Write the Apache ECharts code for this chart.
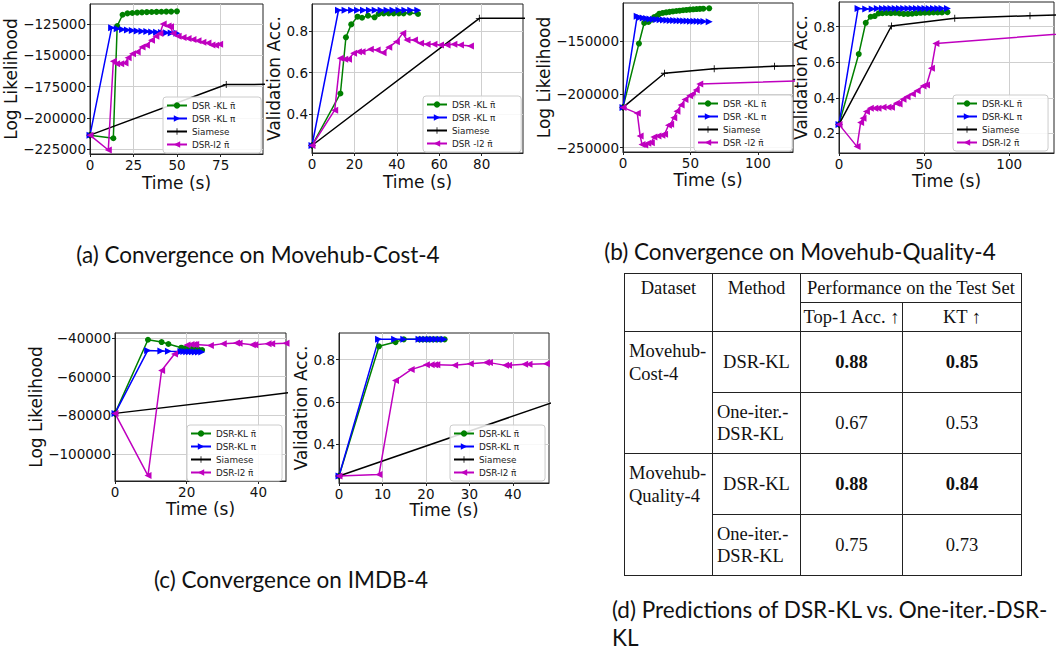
<!DOCTYPE html>
<html><head><meta charset="utf-8">
<script src="https://cdn.jsdelivr.net/npm/echarts@6/dist/echarts.min.js"></script>
<style>
html,body{margin:0;padding:0;background:#fff;width:1062px;height:652px;overflow:hidden}
#chart{position:absolute;left:0;top:0;width:1062px;height:652px}
.cap{position:absolute;font-family:Lato,'Open Sans',sans-serif;font-size:22.5px;color:#111;white-space:nowrap;line-height:28px}
table.t{position:absolute;left:624px;top:273px;border-collapse:collapse;font-family:'Liberation Serif','DejaVu Serif',serif;font-size:18.5px;color:#111;table-layout:fixed}
table.t td{border:1.2px solid #222;padding:0;text-align:center;vertical-align:middle;line-height:22px;box-sizing:border-box}
</style></head><body>
<div id="chart"></div>
<div class="cap" style="left:58px;top:241px;width:400px;text-align:center">(a) Convergence on Movehub-Cost-4</div>
<div class="cap" style="left:600px;top:238px;width:400px;text-align:center">(b) Convergence on Movehub-Quality-4</div>
<div class="cap" style="left:91px;top:566px;width:400px;text-align:center">(c) Convergence on IMDB-4</div>
<div class="cap" style="left:612px;top:596px;width:440px;text-align:left">(d) Predictions of DSR-KL vs. One-iter.-DSR-<br>KL</div>
<table class="t" id="tbl"></table>
<script>
// ---------- data ----------
const legA_L = ['DSR -KL \u03C0\u0304','DSR -KL \u03C0','Siamese','DSR-l2 \u03C0\u0304'];
const legA_R = ['DSR -KL \u03C0\u0304','DSR -KL \u03C0','Siamese','DSR -l2 \u03C0\u0304'];
const legB_L = ['DSR -KL \u03C0\u0304','DSR -KL \u03C0','Siamese','DSR -l2 \u03C0\u0304'];
const legB_R = ['DSR-KL \u03C0\u0304','DSR-KL \u03C0','Siamese','DSR-l2 \u03C0\u0304'];
const legC = ['DSR-KL \u03C0\u0304','DSR-KL \u03C0','Siamese','DSR-l2 \u03C0\u0304'];

const aL_xTicks = [0,25,50,75];
const aL_yTicks = [-225000,-200000,-175000,-150000,-125000];
const aR_xTicks = [0,20,40,60,80];
const aR_yTicks = [0.4,0.6,0.8];
const bL_xTicks = [0,50,100];
const bL_yTicks = [-250000,-200000,-150000];
const bR_xTicks = [0,50,100];
const bR_yTicks = [0.2,0.4,0.6,0.8];
const cL_xTicks = [0,20,40];
const cL_yTicks = [-100000,-80000,-60000,-40000];
const cR_xTicks = [0,10,20,30,40];
const cR_yTicks = [0.4,0.6,0.8];

const aL_green = [[0,-213900],[13.4,-216400],[15.6,-126600],[18.7,-117500],[21.5,-116400],[24.3,-116100],[27.1,-115800],[29.8,-115600],[32.6,-115400],[35.4,-115300],[38.2,-115200],[41,-115100],[43.8,-115000],[46.6,-115000],[49.9,-114800]];
const aL_blue = [[0,-213900],[12.4,-128000],[15.6,-128800],[18.7,-129300],[21.5,-129800],[24.3,-130200],[27.1,-130500],[29.8,-130800],[32.6,-131000],[35.4,-131300],[38.2,-131500],[41,-131700],[43.8,-131900],[46.6,-132100],[49.9,-132300]];
const aL_siam = [[0,-213900],[78.2,-173400],[130,-173000]];
const aL_l2 = [[0,-213900],[10.5,-225800],[13.4,-154800],[15.3,-156700],[17.6,-156700],[20.1,-156200],[21.9,-151900],[24.4,-148700],[27.1,-147300],[29.9,-143300],[32.4,-141900],[35.3,-137900],[37.8,-134700],[40.1,-132500],[42,-125000],[44.8,-126600],[46.2,-127200],[47.7,-132500],[50.6,-134700],[53.4,-135800],[56.3,-136600],[59.1,-137400],[62,-138400],[64.8,-139500],[67.7,-140100],[70,-141700],[72.1,-141900],[74.4,-141100]];

const aR_green = [[0,0.25],[13.4,0.5],[16,0.77],[18.5,0.832],[21.5,0.869],[23.6,0.864],[26.4,0.874],[29.5,0.866],[31.4,0.882],[33.8,0.885],[36.2,0.885],[38.5,0.885],[40.9,0.885],[43.2,0.885],[46.1,0.888],[50,0.882]];
const aR_blue = [[0,0.25],[12.5,0.9],[15.6,0.9],[18.7,0.9],[21.5,0.9],[24.3,0.9],[27.1,0.9],[29.8,0.9],[32.6,0.9],[35.4,0.9],[38.2,0.9],[41,0.9],[43.8,0.9],[46.6,0.9],[49.9,0.9]];
const aR_siam = [[0,0.25],[78.9,0.861],[130,0.861]];
const aR_l2 = [[0,0.25],[10.7,0.42],[13.35,0.669],[15.4,0.664],[17.2,0.664],[19.6,0.693],[21.9,0.7],[23.6,0.7],[27.5,0.712],[30.7,0.709],[33.5,0.696],[36.2,0.722],[39.8,0.749],[42.8,0.789],[44.8,0.757],[48.3,0.757],[51.2,0.741],[54.3,0.736],[57.5,0.736],[60.6,0.733],[63.7,0.733],[66.9,0.736],[70,0.733],[74.7,0.728]];

const bL_green = [[0,-212300],[11.8,-152500],[15.7,-133200],[18.9,-132200],[21.5,-130000],[23.1,-127600],[25.5,-126200],[27,-124500],[29.5,-123800],[32,-123300],[34.5,-122800],[37,-122400],[39.5,-122000],[42,-121700],[44.5,-121300],[47,-121000],[49.5,-120700],[52,-120400],[54.5,-120200],[57,-120000],[59.5,-119800],[63.9,-119500]];
const bL_blue = [[0,-212300],[10.5,-126800],[12.5,-128000],[15,-128600],[17.5,-129000],[20,-129400],[22.5,-129700],[25,-130000],[27.5,-130200],[30,-130400],[32.5,-130600],[35,-130800],[37.5,-131000],[40,-131100],[42.5,-131200],[45,-131300],[47.5,-131400],[50,-131500],[52.5,-131600],[55,-131700],[57.5,-131800],[60,-131900],[63.9,-132000]];
const bL_siam = [[0,-212300],[30.7,-180300],[67.6,-176200],[112.3,-173700],[150,-172800]];
const bL_l2 = [[0,-212300],[10.6,-217900],[12.7,-239000],[14.1,-247000],[16.1,-247500],[18.4,-246000],[21,-245500],[22.9,-240000],[25.9,-239000],[28.8,-238500],[30.8,-237500],[33.7,-229000],[35.3,-228000],[37.6,-222000],[40,-216000],[43.1,-210000],[45.9,-205000],[49.4,-201500],[51.4,-200000],[54.3,-196000],[56.9,-190500],[150,-186500]];

const bR_green = [[0,0.25],[11.6,0.646],[15.7,0.822],[18.6,0.856],[21,0.86],[23.3,0.875],[25.5,0.876],[28,0.877],[30.5,0.876],[33,0.878],[35.5,0.875],[38,0.872],[40.5,0.872],[43,0.873],[45.5,0.876],[48,0.878],[50.5,0.879],[53,0.879],[55.5,0.88],[58,0.88],[60.5,0.88],[63.7,0.882]];
const bR_blue = [[0,0.25],[11.2,0.902],[15.7,0.9],[19.5,0.9],[22.5,0.902],[25.5,0.902],[28,0.902],[30.5,0.902],[33,0.902],[35.5,0.902],[38,0.902],[40.5,0.902],[43,0.902],[45.5,0.902],[48,0.902],[50.5,0.902],[53,0.902],[55.5,0.902],[58,0.902],[60.5,0.902],[63.7,0.902]];
const bR_siam = [[0,0.25],[30.8,0.804],[68,0.847],[112.2,0.862],[150,0.873]];
const bR_l2 = [[0,0.25],[10.6,0.125],[12.7,0.26],[14.1,0.285],[16.1,0.322],[18.4,0.341],[21,0.341],[22.9,0.341],[25.9,0.346],[28.8,0.346],[30.8,0.346],[33.7,0.369],[35.3,0.365],[37.6,0.391],[40,0.406],[43.1,0.421],[45.9,0.44],[49.4,0.466],[51.4,0.472],[54.3,0.566],[56.9,0.706],[150,0.774]];

const cL_green = [[0,-79000],[9.2,-40900],[13,-42100],[14.9,-43100],[18.5,-45000],[19.3,-45500],[20.1,-45300],[20.8,-45800],[21.6,-45600],[22.4,-45900],[23.3,-46000],[24.3,-46200]];
const cL_blue = [[0,-79000],[9.1,-46500],[12.8,-46700],[14.9,-46900],[18.4,-47000],[19.2,-47000],[20,-47100],[20.8,-47100],[21.6,-47100],[22.4,-47200],[23.3,-47200],[24.2,-47200]];
const cL_siam = [[0,-79000],[100,-57000]];
const cL_l2 = [[0,-79000],[9.2,-111200],[13,-56800],[16.6,-48300],[20.1,-43600],[21.2,-43300],[22,-43300],[22.5,-43300],[26.6,-43900],[30.2,-42900],[33.9,-42600],[34.6,-42700],[38.3,-43500],[39,-43500],[42.7,-42900],[43.7,-42900],[47.7,-42700]];

const cR_green = [[0,0.25],[9.2,0.863],[13,0.883],[14.9,0.896],[18.5,0.896],[19.3,0.896],[20.1,0.896],[20.8,0.896],[21.6,0.896],[22.4,0.896],[23.3,0.896],[24.3,0.896]];
const cR_blue = [[0,0.25],[9.1,0.896],[12.8,0.896],[14.9,0.896],[18.4,0.896],[19.2,0.896],[20,0.896],[20.8,0.896],[21.6,0.896],[22.4,0.896],[23.3,0.896],[24.2,0.896]];
const cR_siam = [[0,0.25],[100,0.958]];
const cR_l2 = [[0,0.25],[9.2,0.257],[13,0.702],[16.6,0.753],[20.1,0.776],[21.2,0.776],[22,0.776],[22.5,0.776],[26.6,0.773],[30.2,0.781],[33.9,0.786],[34.6,0.786],[38.3,0.773],[39,0.773],[42.7,0.778],[43.7,0.778],[47.7,0.781]];

// table
const tblHeader = ['Dataset','Method','Performance on the Test Set'];
const tblSubHeader = ['Top-1 Acc. \u2191','KT \u2191'];
const tblDatasets = [['Movehub-','Cost-4'],['Movehub-','Quality-4']];
const tblMethods = [['DSR-KL'],['One-iter.-','DSR-KL'],['DSR-KL'],['One-iter.-','DSR-KL']];
const tblAcc = ['0.88','0.67','0.88','0.75'];
const tblKT = ['0.85','0.53','0.84','0.73'];
const tblBold = [true,false,true,false];

// ---------- build table ----------
(function(){
  const t = document.getElementById('tbl');
  let h = '<colgroup><col style="width:88px"><col style="width:88px"><col style="width:102px"><col style="width:119px"></colgroup>';
  h += '<tr style="height:29px"><td rowspan="2" style="vertical-align:top;padding-top:3px">'+tblHeader[0]+'</td><td rowspan="2" style="vertical-align:top;padding-top:3px">'+tblHeader[1]+'</td><td colspan="2">'+tblHeader[2]+'</td></tr>';
  h += '<tr style="height:29px"><td>'+tblSubHeader[0]+'</td><td>'+tblSubHeader[1]+'</td></tr>';
  for (let i=0;i<4;i++){
    h += '<tr style="height:61px">';
    if (i%2===0) h += '<td rowspan="2" style="vertical-align:top;text-align:left;padding:8px 0 0 4px;line-height:23px">'+tblDatasets[i/2].join('<br>')+'</td>';
    const m = tblMethods[i];
    h += '<td style="'+(m.length>1?'text-align:left;padding-left:4px;':'')+'">'+m.join('<br>')+'</td>';
    const b = tblBold[i];
    h += '<td>'+(b?'<b>':'')+tblAcc[i]+(b?'</b>':'')+'</td><td>'+(b?'<b>':'')+tblKT[i]+(b?'</b>':'')+'</td></tr>';
  }
  t.innerHTML = h;
})();

// ---------- chart ----------
const FONT = 'DejaVu Sans';
const TICK = 13.5;
const plusPath = 'path://M0,4.4H10V5.6H0Z M4.4,0H5.6V10H4.4Z';
const seriesStyle = [
  {color:'#008000', symbol:'circle', size:6, rot:0},
  {color:'#0000ff', symbol:'triangle', size:7, rot:-90},
  {color:'#000000', symbol:plusPath, size:7, rot:0},
  {color:'#bf00bf', symbol:'triangle', size:7, rot:90}
];
const panels = [
  {grid:{left:90,top:4,width:173,height:150}, x:[0,99.3], xt:aL_xTicks, y:[-229000,-108900], yt:aL_yTicks, yname:'Log Likelihood', ygap:64, xgap:20, names:legA_L, data:[aL_green,aL_blue,aL_siam,aL_l2], leg:[163,97]},
  {grid:{left:312,top:4,width:211,height:149}, x:[0,99.5], xt:aR_xTicks, y:[0.214,0.93], yt:aR_yTicks, yname:'Validation Acc.', ygap:28, xgap:20, names:legA_R, data:[aR_green,aR_blue,aR_siam,aR_l2], leg:[423,96]},
  {grid:{left:623,top:3,width:170,height:149}, x:[0,126], xt:bL_xTicks, y:[-254100,-114500], yt:bL_yTicks, yname:'Log Likelihood', ygap:66, xgap:19, names:legB_L, data:[bL_green,bL_blue,bL_siam,bL_l2], leg:[694,95]},
  {grid:{left:839,top:2,width:215,height:151}, x:[0,126.3], xt:bR_xTicks, y:[0.089,0.939], yt:bR_yTicks, yname:'Validation Acc.', ygap:27, xgap:19, names:legB_R, data:[bR_green,bR_blue,bR_siam,bR_l2], leg:[953,95]},
  {grid:{left:115,top:333,width:171,height:148}, x:[0,47.7], xt:cL_xTicks, y:[-114000,-37400], yt:cL_yTicks, yname:'Log Likelihood', ygap:67, xgap:19, names:legC, data:[cL_green,cL_blue,cL_siam,cL_l2], leg:[187,425]},
  {grid:{left:339,top:333,width:210,height:150}, x:[0,48.3], xt:cR_xTicks, y:[0.217,0.926], yt:cR_yTicks, yname:'Validation Acc.', ygap:27, xgap:18, names:legC, data:[cR_green,cR_blue,cR_siam,cR_l2], leg:[450,425]}
];
const fmt = v => v < 0 ? '\u2212' + Math.abs(v) : String(v);
const grids=[], xAxes=[], yAxes=[], series=[], legends=[];
panels.forEach((p,i)=>{
  grids.push(Object.assign({show:true, borderColor:'#222', borderWidth:1, backgroundColor:'transparent', containLabel:false}, p.grid));
  const common = {
    gridIndex:i, type:'value',
    axisLine:{show:true, onZero:false, lineStyle:{color:'#222', width:1}},
    splitLine:{show:true, lineStyle:{color:'#cfcfcf', width:1}},
    nameLocation:'middle',
    nameTextStyle:{fontFamily:FONT, fontSize:17, color:'#111'}
  };
  xAxes.push(Object.assign({}, common, {
    min:p.x[0], max:p.x[1], name:'Time (s)', nameGap:p.xgap,
    axisTick:{show:true, inside:false, length:3, customValues:p.xt, lineStyle:{color:'#222'}},
    axisLabel:{customValues:p.xt, fontFamily:FONT, fontSize:TICK, color:'#111', margin:4, formatter:fmt}
  }));
  yAxes.push(Object.assign({}, common, {
    min:p.y[0], max:p.y[1], name:p.yname, nameGap:p.ygap,
    axisTick:{show:true, inside:false, length:3, customValues:p.yt, lineStyle:{color:'#222'}},
    axisLabel:{customValues:p.yt, fontFamily:FONT, fontSize:TICK, color:'#111', margin:4, formatter:fmt}
  }));
  p.data.forEach((d,k)=>{
    const s = seriesStyle[k];
    series.push({
      type:'line', name:p.names[k], xAxisIndex:i, yAxisIndex:i, data:d,
      symbol:s.symbol, symbolSize:s.size, symbolRotate:s.rot, showSymbol:true,
      clip:true, silent:true, animation:false,
      lineStyle:{color:s.color, width:1.5}, itemStyle:{color:s.color}
    });
  });
  legends.push({
    show:true, orient:'vertical', left:p.leg[0], top:p.leg[1], data:p.names, selectedMode:false,
    backgroundColor:'rgba(255,255,255,0.85)', borderColor:'#cccccc', borderWidth:1, borderRadius:3,
    padding:[4,26,4,3], itemWidth:20, itemHeight:8, itemGap:4,
    textStyle:{fontFamily:FONT, fontSize:8.8, color:'#222'}
  });
});
const chart = echarts.init(document.getElementById('chart'), null, {renderer:'svg'});
chart.setOption({
  animation:false, backgroundColor:'#fff',
  grid:grids, xAxis:xAxes, yAxis:yAxes, series:series, legend:legends
});
</script>
</body></html>
